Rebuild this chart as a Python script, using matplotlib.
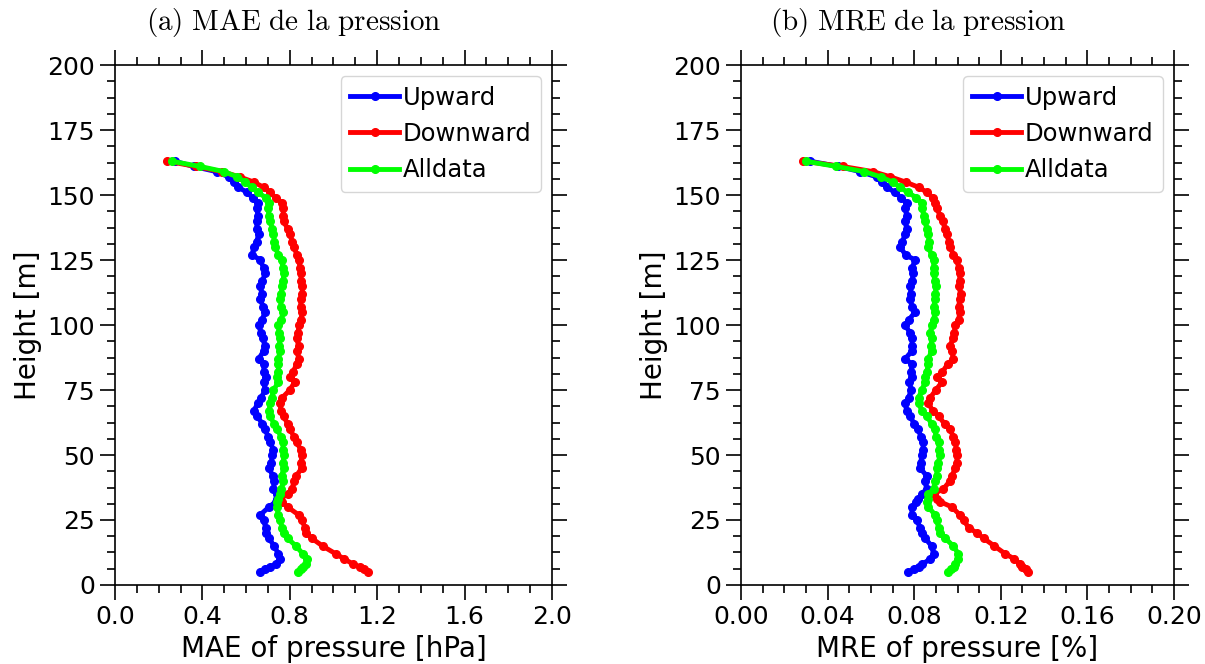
import matplotlib
matplotlib.use('Agg')
import matplotlib.pyplot as plt
from matplotlib.ticker import MultipleLocator, AutoMinorLocator

plt.rcParams['mathtext.fontset'] = 'cm'
plt.rcParams['font.family'] = 'DejaVu Sans'

# heights [m]
height = [5, 6, 7, 8, 10, 12, 15, 18, 20, 22,
          25, 27, 30, 32, 33, 35, 37, 40, 42, 45,
          47, 50, 52, 55, 57, 60, 62, 65, 67, 70,
          72, 75, 78, 80, 82, 85, 87, 90, 92, 95,
          97, 100, 102, 105, 107, 110, 112, 115, 117, 120,
          122, 125, 127, 130, 132, 135, 137, 140, 142, 145,
          147, 149, 151, 153, 155, 157, 159, 161, 163]

# MAE of pressure [hPa]
mae_up = [0.665, 0.685, 0.71, 0.735, 0.755, 0.748, 0.728, 0.705, 0.69, 0.69,
          0.68, 0.665, 0.705, 0.735, 0.74, 0.74, 0.725, 0.73, 0.722, 0.705,
          0.715, 0.72, 0.725, 0.71, 0.70, 0.688, 0.675, 0.65, 0.635, 0.655,
          0.668, 0.688, 0.68, 0.69, 0.682, 0.68, 0.658, 0.68, 0.685, 0.678,
          0.668, 0.658, 0.672, 0.688, 0.678, 0.665, 0.672, 0.665, 0.675, 0.688,
          0.68, 0.665, 0.628, 0.635, 0.648, 0.658, 0.65, 0.648, 0.655, 0.648,
          0.655, 0.63, 0.605, 0.565, 0.545, 0.52, 0.465, 0.36, 0.275]
mae_down = [1.158, 1.14, 1.12, 1.09, 1.05, 1.01, 0.95, 0.90, 0.875, 0.87,
            0.855, 0.84, 0.79, 0.765, 0.756, 0.79, 0.81, 0.82, 0.83, 0.855,
            0.85, 0.858, 0.85, 0.832, 0.82, 0.80, 0.79, 0.772, 0.758, 0.757,
            0.765, 0.80, 0.822, 0.80, 0.815, 0.832, 0.842, 0.832, 0.84, 0.832,
            0.838, 0.842, 0.85, 0.858, 0.85, 0.85, 0.858, 0.856, 0.852, 0.85,
            0.848, 0.84, 0.832, 0.82, 0.812, 0.80, 0.79, 0.772, 0.77, 0.77,
            0.765, 0.735, 0.71, 0.68, 0.635, 0.57, 0.49, 0.37, 0.24]
mae_all = [0.838, 0.85, 0.862, 0.875, 0.88, 0.86, 0.828, 0.79, 0.772, 0.765,
           0.755, 0.748, 0.74, 0.742, 0.748, 0.755, 0.762, 0.77, 0.763, 0.772,
           0.77, 0.772, 0.768, 0.77, 0.76, 0.742, 0.728, 0.71, 0.706, 0.709,
           0.717, 0.725, 0.748, 0.742, 0.748, 0.748, 0.748, 0.755, 0.752, 0.755,
           0.75, 0.748, 0.76, 0.77, 0.762, 0.755, 0.762, 0.763, 0.77, 0.772,
           0.768, 0.763, 0.748, 0.733, 0.73, 0.725, 0.72, 0.71, 0.705, 0.70,
           0.705, 0.69, 0.655, 0.625, 0.595, 0.56, 0.50, 0.39, 0.26]

# MRE of pressure [%]
mre_up = [0.0773, 0.080, 0.082, 0.0838, 0.0873, 0.0889, 0.088, 0.085, 0.0835, 0.0827,
          0.0812, 0.0789, 0.0789, 0.081, 0.0819, 0.0835, 0.0857, 0.085, 0.0857, 0.0827,
          0.083, 0.0835, 0.084, 0.0842, 0.083, 0.0819, 0.080, 0.078, 0.0765, 0.0758,
          0.0774, 0.0785, 0.0778, 0.0789, 0.0785, 0.0789, 0.0758, 0.0789, 0.079, 0.0789,
          0.078, 0.0758, 0.0775, 0.0804, 0.079, 0.078, 0.0785, 0.0781, 0.079, 0.0795,
          0.079, 0.0804, 0.076, 0.0735, 0.0745, 0.0758, 0.0765, 0.0758, 0.0765, 0.0758,
          0.0765, 0.074, 0.071, 0.0675, 0.065, 0.0626, 0.055, 0.045, 0.032]
mre_down = [0.1326, 0.1315, 0.130, 0.129, 0.1263, 0.122, 0.117, 0.112, 0.109, 0.1051,
            0.1028, 0.101, 0.0974, 0.092, 0.0905, 0.0889, 0.0935, 0.0965, 0.0974, 0.099,
            0.0997, 0.0997, 0.0995, 0.0989, 0.098, 0.0966, 0.094, 0.0912, 0.0885, 0.0865,
            0.0873, 0.090, 0.0927, 0.0904, 0.093, 0.0955, 0.098, 0.0974, 0.0965, 0.098,
            0.0985, 0.0989, 0.1005, 0.101, 0.1005, 0.101, 0.1015, 0.1005, 0.101, 0.101,
            0.1005, 0.0997, 0.0981, 0.0966, 0.096, 0.095, 0.094, 0.0935, 0.092, 0.0903,
            0.0896, 0.0885, 0.086, 0.082, 0.076, 0.069, 0.061, 0.047, 0.0288]
mre_all = [0.0958, 0.097, 0.0985, 0.099, 0.1004, 0.1004, 0.098, 0.0943, 0.092, 0.0912,
           0.0904, 0.0896, 0.0865, 0.086, 0.0862, 0.0865, 0.0889, 0.0896, 0.0904, 0.0904,
           0.091, 0.092, 0.0915, 0.0912, 0.090, 0.0896, 0.088, 0.0858, 0.0835, 0.082,
           0.082, 0.0835, 0.085, 0.085, 0.0858, 0.0865, 0.0865, 0.088, 0.0878, 0.088,
           0.0875, 0.088, 0.0889, 0.0896, 0.089, 0.0896, 0.0898, 0.090, 0.0895, 0.0889,
           0.089, 0.0889, 0.088, 0.0865, 0.0868, 0.0865, 0.0858, 0.085, 0.0845, 0.0835,
           0.0835, 0.081, 0.077, 0.0735, 0.070, 0.0645, 0.057, 0.044, 0.030]

labels = ['Upward', 'Downward', 'Alldata']
colors = ['blue', 'red', 'lime']


def style_axis(ax, xmax, xmajor, xminor, xlabel, title):
    ax.set_xlim(0, xmax)
    ax.set_ylim(0, 200)
    ax.xaxis.set_major_locator(MultipleLocator(xmajor))
    ax.xaxis.set_minor_locator(MultipleLocator(xminor))
    ax.yaxis.set_major_locator(MultipleLocator(25))
    ax.yaxis.set_minor_locator(AutoMinorLocator(4))
    ax.tick_params(which='both', direction='out', top=True, right=True,
                   labelsize=18)
    ax.tick_params(which='major', length=11, width=1.2)
    ax.tick_params(which='minor', length=5.5, width=1.2)
    for s in ax.spines.values():
        s.set_linewidth(1.2)
    ax.set_xlabel(xlabel, fontsize=20)
    ax.set_ylabel('Height [m]', fontsize=20)
    ax.set_title(title, fontsize=21, pad=25, x=0.41)
    ax.legend(loc='upper right', fontsize=17.5, handlelength=2.0,
              handletextpad=0.15, borderaxespad=0.45)


fig = plt.figure(figsize=(12.05, 6.64), dpi=100)
ax1 = fig.add_axes([0.0954, 0.119, 0.3627, 0.783])
ax2 = fig.add_axes([0.615, 0.119, 0.3593, 0.783])

for vals, lab, c in zip([mae_up, mae_down, mae_all], labels, colors):
    ax1.plot(vals, height, color=c, lw=3.5, marker='o', ms=5.5, label=lab)
style_axis(ax1, 2.0, 0.4, 0.1, 'MAE of pressure [hPa]',
           r'$\mathrm{(a)\ MAE\ de\ la\ pression}$')
ax1.xaxis.set_major_formatter(plt.FormatStrFormatter('%.1f'))

for vals, lab, c in zip([mre_up, mre_down, mre_all], labels, colors):
    ax2.plot(vals, height, color=c, lw=3.5, marker='o', ms=5.5, label=lab)
style_axis(ax2, 0.2, 0.04, 0.01, 'MRE of pressure [%]',
           r'$\mathrm{(b)\ MRE\ de\ la\ pression}$')
ax2.xaxis.set_major_formatter(plt.FormatStrFormatter('%.2f'))

fig.savefig('out.png', dpi=100)
